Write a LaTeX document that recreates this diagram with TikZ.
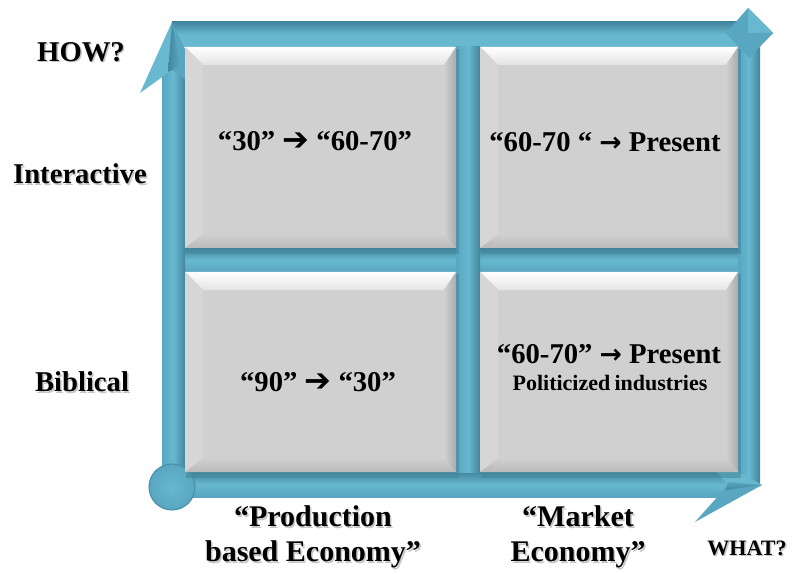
\documentclass[tikz,border=0pt]{standalone}
\usepackage{fontspec}
\setmainfont{Liberation Serif}
\newfontfamily\tnr{Liberation Serif}
\newfontfamily\dejavu{DejaVu Sans}
\definecolor{barL}{RGB}{104,184,208}
\definecolor{barM}{RGB}{88,166,192}
\definecolor{barD}{RGB}{66,134,156}
\definecolor{faceg}{RGB}{208,208,208}
\definecolor{topg}{RGB}{228,228,228}
\definecolor{leftg}{RGB}{214,214,214}
\definecolor{rightg}{RGB}{172,172,172}
\definecolor{botg}{RGB}{186,186,186}
\newcommand\bevbox[5]{%
  \fill[barD,opacity=0.6] (#2+1,#3+2) rectangle (#4+3,#5+6);
  \fill[faceg] (#2,#3) rectangle (#4,#5);
  \shade[top color=white,bottom color=topg] (#2,#3) -- (#4,#3) -- (#4-12,#3+18) -- (#2+18,#3+18) -- cycle;
  \fill[leftg] (#2,#3) -- (#2+18,#3+18) -- (#2+18,#5-14) -- (#2,#5) -- cycle;
  \shade[left color=faceg,right color=rightg] (#4,#3) -- (#4,#5) -- (#4-12,#5-14) -- (#4-12,#3+18) -- cycle;
  \shade[top color=faceg,bottom color=botg] (#2,#5) -- (#4,#5) -- (#4-12,#5-14) -- (#2+18,#5-14) -- cycle;
  \coordinate (#1) at ({(#2+#4)/2},{(#3+#5)/2});
}
\newcommand\bigarr{{\dejavu\bfseries\fontsize{24}{24}\selectfont ➔}}
\newcommand\thinarr{{\dejavu\bfseries\fontsize{20}{20}\selectfont →}}
\begin{document}
\begin{tikzpicture}[x=0.75pt,y=-0.75pt,
  big/.style={font=\tnr\bfseries\fontsize{21.5}{26}\selectfont, inner sep=0pt, align=center},
  bot/.style={font=\tnr\bfseries\fontsize{22.5}{26.5}\selectfont, inner sep=0pt, align=center},
  small/.style={font=\tnr\bfseries\fontsize{16.5}{20}\selectfont, inner sep=0pt, align=center},
  shd/.style={text=black!50, opacity=0.45}]
\useasboundingbox (0,0) rectangle (793,574);
% background fill behind boxes
\fill[barL] (185,47) rectangle (738,472);
% bars
\shade[top color=barD,bottom color=barL,middle color=barL] (172,22) rectangle (748,47);
\shade[top color=barD,bottom color=barM,middle color=barL] (185,248) rectangle (738,272);
\shade[top color=barD,bottom color=barM,middle color=barL] (172,472) rectangle (735,497);
\shade[left color=barM,right color=barD,middle color=barL] (162,70) rectangle (185,487);
\shade[left color=barM,right color=barD,middle color=barL] (456,47) rectangle (480,472);
\shade[left color=barM,right color=barD,middle color=barL] (738,33) rectangle (760,485);
% up arrow head
\fill[barL] (172,22) -- (140,93) -- (172,70) -- cycle;
\fill[barM] (172,22) -- (172,70) -- (207,95) -- cycle;
\shade[left color=barD,right color=barM] (172,22) -- (168,72) -- (180,66) -- cycle;
% top-right diamond head
\fill[barM] (748,8) -- (773,33) -- (749,58) -- (726,33) -- cycle;
\fill[barL] (748,8) -- (773,33) -- (748,33) -- cycle;
\fill[barM] (749,58) -- (773,33) -- (748,33) -- cycle;
% bottom-right arrow head
\fill[barL] (762,485) -- (695,448) -- (728,485) -- cycle;
\fill[barM] (762,485) -- (728,485) -- (695,522) -- cycle;
\shade[top color=barM,bottom color=barD] (762,485) -- (728,482) -- (726,490) -- cycle;
% corner circle
\shade[inner color=barL,outer color=barM] (172,487) circle[radius=23];
\draw[barD!70!barM,line width=0.8pt] (172,487) circle[radius=23];
% boxes
\bevbox{tl}{185}{47}{456}{248}
\bevbox{tr}{480}{47}{738}{248}
\bevbox{bl}{185}{272}{456}{472}
\bevbox{br}{480}{272}{738}{472}
% box texts
\node[big] (ttl) at (315,141) {“30” \bigarr{} “60-70”};
\node[big] (ttr) at (605,142) {“60-70 “ \thinarr{} Present};
\node[big] (tbl) at (318,382) {“90” \bigarr{} “30”};
\node[big] (tbr1) at (609,354) {“60-70” \thinarr{} Present};
\node[small] (tbr2) at (610,383) {Politicized\hspace{-1pt} industries};
% outside labels with shadows
\node[big,shd] at (82.5,53.5) {HOW?};
\node[big] (how) at (81,52) {HOW?};
\node[big,shd] at (81.5,175.5) {Interactive};
\node[big] (inter) at (80,174) {Interactive};
\node[big,shd] at (83.5,383.5) {Biblical};
\node[big] (bib) at (82,382) {Biblical};
\node[bot,shd] at (314.5,538.5) {“Production\\based Economy”};
\node[bot] (prod) at (313,537) {“Production\\based Economy”};
\node[bot,shd] at (579.5,538.5) {“Market\\Economy”};
\node[bot] (mkt) at (578,537) {“Market\\Economy”};
\node[small,shd] at (748.5,549.5) {WHAT?};
\node[small] (what) at (747,548) {WHAT?};
\end{tikzpicture}
\end{document}
